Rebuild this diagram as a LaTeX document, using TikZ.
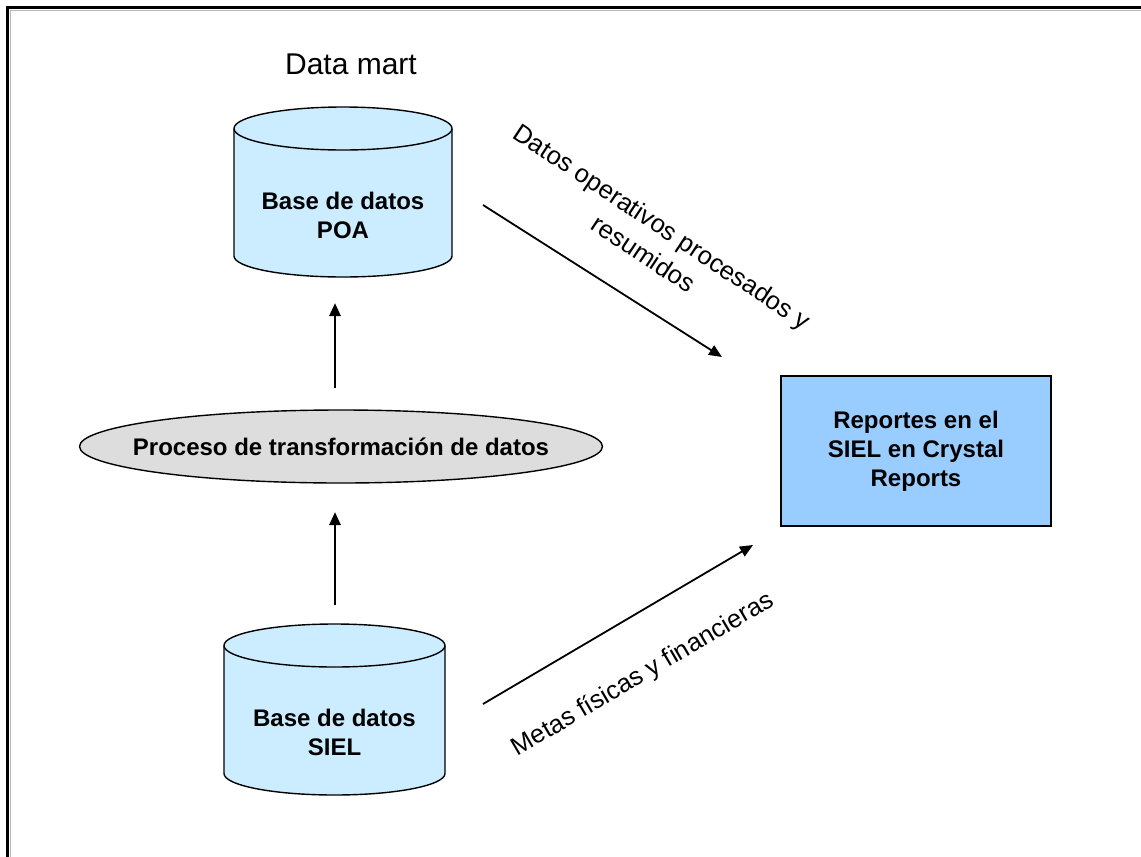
\documentclass[tikz,border=0pt]{standalone}
\usepackage{fontspec}
\setmainfont{Liberation Sans}
\usetikzlibrary{shapes.geometric,arrows.meta}
\definecolor{cylfill}{RGB}{204,236,255}
\definecolor{boxfill}{RGB}{153,204,255}
\definecolor{procfill}{RGB}{221,221,221}
\begin{document}
\begin{tikzpicture}[x=1pt,y=-1pt,
  lbl/.style={font=\fontsize{24}{29}\selectfont\bfseries, align=center, inner sep=0pt},
  flow/.style={font=\fontsize{25.5}{33}\selectfont, align=center, inner sep=0pt},
  cyl/.style={draw=black, line width=1.4pt, fill=cylfill},
  procshape/.style={ellipse, draw=black, line width=1.4pt, fill=procfill, minimum width=523pt, minimum height=73pt, inner sep=0pt},
  repbox/.style={rectangle, draw=black, line width=1.4pt, fill=boxfill, minimum width=270pt, minimum height=150pt},
  arr/.style={-{Triangle[length=13pt,width=11pt]}, line width=2.6pt},
  darr/.style={-{Triangle[length=13pt,width=11pt]}, line width=1.8pt}]
\useasboundingbox (0,0) rectangle (1141,857);
\fill[white] (0,0) rectangle (1141,857);
% frame (only left and top visible)
\draw[gray!55, line width=1.5pt] (10.5,857) -- (10.5,10.5) -- (1141,10.5);
\draw[line width=3pt] (7,857) -- (7,7) -- (1141,7);

% title
\node[font=\fontsize{30}{36}\selectfont, inner sep=0pt] (title) at (351,64) {Data mart};

% POA cylinder
\path[cyl] (234,128.5) -- (234,256) arc[start angle=180,end angle=360,x radius=109pt,y radius=21pt]
  -- (452,128.5) arc[start angle=0,end angle=180,x radius=109pt,y radius=21.5pt] -- cycle;
\draw[line width=1.4pt] (234,128.5) arc[start angle=180,end angle=360,x radius=109pt,y radius=21.5pt];
\node[lbl] (poa) at (343,215) {Base de datos\\POA};

% SIEL cylinder
\path[cyl] (224,645.5) -- (224,773.5) arc[start angle=180,end angle=360,x radius=110.5pt,y radius=21.5pt]
  -- (445,645.5) arc[start angle=0,end angle=180,x radius=110.5pt,y radius=21.5pt] -- cycle;
\draw[line width=1.4pt] (224,645.5) arc[start angle=180,end angle=360,x radius=110.5pt,y radius=21.5pt];
\node[lbl] (siel) at (334.5,732) {Base de datos\\SIEL};

% process ellipse
\node[procshape] (proc) at (341,446.5) {};
\node[lbl] (proctext) at (proc.center) {Proceso de transformación de datos};

% reports box
\node[repbox, lbl] (rep) at (916,451) {Reportes en el\\SIEL en Crystal\\Reports};

% connector end points
\coordinate (u1s) at (335,388);
\coordinate (u1e) at (335,303);
\coordinate (u2s) at (335,605);
\coordinate (u2e) at (335,512);
\coordinate (d1s) at (483,205);
\coordinate (d1e) at (722,357);
\coordinate (d2s) at (483,704);
\coordinate (d2e) at (753,545);

\draw[arr] (u1s) -- (u1e);
\draw[arr] (u2s) -- (u2e);
\draw[darr] (d1s) -- (d1e);
\draw[darr] (d2s) -- (d2e);

% connector labels
\node[flow, rotate=-33.5] (lab1) at (653,240) {Datos operativos procesados y\\resumidos};
\node[flow, rotate=30.5] (lab2) at (643,675) {Metas físicas y financieras};
\end{tikzpicture}
\end{document}
